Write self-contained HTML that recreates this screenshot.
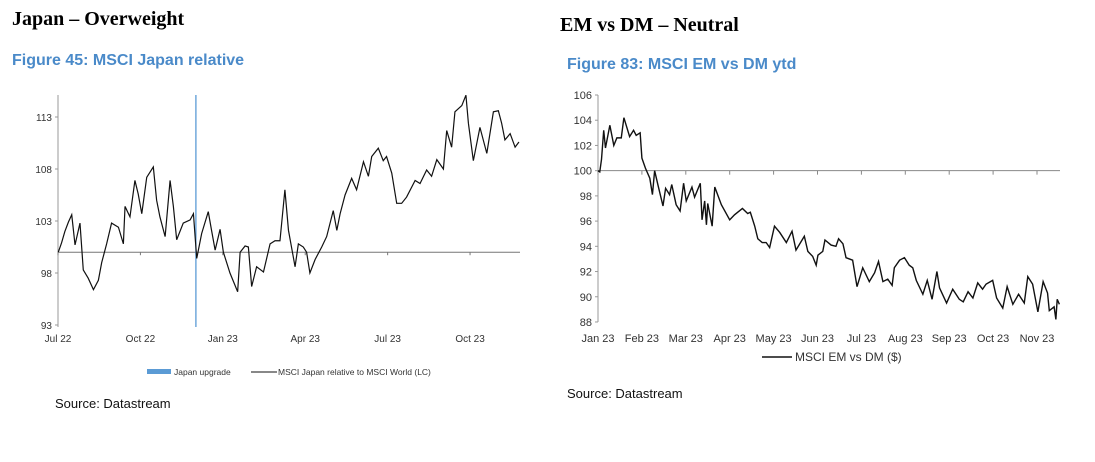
<!DOCTYPE html>
<html><head><meta charset="utf-8"><style>
body{margin:0;width:1095px;height:462px;background:#fff;overflow:hidden;font-family:"Liberation Sans",sans-serif}
.h{position:absolute;font-family:"Liberation Serif",serif;font-weight:bold;font-size:20px;color:#000}
.f{position:absolute;font-weight:bold;font-size:16px;color:#4a8ac9}
.s{position:absolute;font-size:13px;color:#111}
svg{position:absolute;left:0;top:0}
svg text{font-family:"Liberation Sans",sans-serif;fill:#333}
</style></head><body>
<div class="h" style="left:12px;top:8px">Japan – Overweight</div>
<div class="f" style="left:12px;top:52px">Figure 45: MSCI Japan relative</div>
<div class="h" style="left:560px;top:14px">EM vs DM – Neutral</div>
<div class="f" style="left:567px;top:56px">Figure 83: MSCI EM vs DM ytd</div>
<div class="s" style="left:55px;top:396px">Source: Datastream</div>
<div class="s" style="left:567px;top:386px">Source: Datastream</div>
<svg id="c" width="1095" height="462"></svg>
<script>
const jpMonths=[0.01,.13,.25,.38,.50,.62,.80,.92,1.10,1.29,1.47,1.59,1.77,1.95,2.20,2.38,2.44,2.62,2.80,2.92,3.05,3.23,3.47,3.59,3.71,3.90,4.08,4.20,4.32,4.56,4.81,4.93,5.05,5.23,5.47,5.59,5.72,5.90,6.02,6.26,6.54,6.63,6.81,6.93,7.05,7.23,7.48,7.72,7.90,8.08,8.26,8.39,8.63,8.75,8.93,9.05,9.17,9.36,9.60,9.78,10.02,10.15,10.27,10.45,10.69,10.87,11.12,11.30,11.42,11.66,11.84,11.96,12.15,12.33,12.51,12.69,13.00,13.18,13.42,13.60,13.79,14.03,14.15,14.33,14.45,14.70,14.85,14.94,15.12,15.36,15.61,15.85,16.03,16.15,16.27,16.46,16.64,16.78];
const jpValues=[100,100.9,102,102.9,103.6,100.7,102.8,98.3,97.5,96.4,97.3,99,100.8,102.8,102.4,100.8,104.4,103.4,106.9,105.6,103.7,107.2,108.2,105,103.4,101.5,106.9,104.4,101.2,102.8,103.1,103.7,99.4,101.8,103.9,102.1,100.2,102.2,100,98,96.2,100,100.6,100.5,96.7,98.6,98.1,100.8,101.1,101.1,106,102.1,98.6,100.8,100.5,100,98,99.3,100.5,101.5,104,102.1,103.7,105.5,107.1,106,108.7,107.3,109.2,110,108.8,109.2,107.6,104.7,104.7,105.3,106.9,106.6,107.9,107.3,108.9,108,111.7,110.1,113.5,114.1,115.1,112.4,108.8,112,109.5,113.5,113.6,112.4,110.8,111.4,110.1,110.6];
const jpTicks=[93,98,103,108,113];
const jpXLabels=["Jul 22","Oct 22","Jan 23","Apr 23","Jul 23","Oct 23"];
const jpUpgrade=5.02;
const emMonths=[0,.04,.08,.13,.17,.27,.36,.43,.53,.59,.72,.81,.87,.96,1.00,1.08,1.18,1.24,1.29,1.37,1.48,1.54,1.63,1.68,1.78,1.87,1.95,2.01,2.14,2.20,2.33,2.37,2.43,2.47,2.50,2.60,2.66,2.81,3.00,3.11,3.29,3.41,3.47,3.57,3.64,3.74,3.83,3.91,4.02,4.14,4.29,4.42,4.51,4.70,4.78,4.89,4.97,5.01,5.12,5.17,5.31,5.42,5.48,5.58,5.65,5.80,5.90,6.03,6.18,6.30,6.39,6.49,6.60,6.70,6.75,6.87,6.98,7.09,7.17,7.25,7.40,7.50,7.61,7.72,7.78,7.94,8.08,8.23,8.32,8.43,8.54,8.65,8.76,8.84,8.99,9.08,9.22,9.32,9.45,9.58,9.71,9.79,9.90,10.02,10.14,10.24,10.28,10.39,10.43,10.46,10.51];
const emValues=[100,99.9,100.9,103.2,101.8,103.6,102,102.6,102.6,104.2,102.7,103.2,102.8,103,101,100.2,99.4,98.1,100,98.8,97.2,98.6,98.1,98.9,97.3,96.8,99,97.6,98.7,97.9,99,96.1,97.6,95.7,97.4,95.6,98.7,97.3,96.1,96.5,97,96.6,96.7,95.6,94.6,94.3,94.3,93.9,95.6,95.1,94.3,95.2,93.7,94.8,93.6,93.2,92.5,93.3,93.6,94.5,94.1,94,94.6,94.2,93.1,92.9,90.8,92.3,91.2,91.9,92.8,91.2,91.4,90.9,92.3,92.9,93.1,92.5,92.3,91.3,90.2,91.3,89.8,92,90.7,89.5,90.6,89.8,89.6,90.4,89.9,91.1,90.6,91,91.3,89.9,89.1,90.8,89.4,90.2,89.5,91.6,91,88.8,91.2,90.3,88.9,89.2,88.2,89.8,89.4];
const emTicks=[88,90,92,94,96,98,100,102,104,106];
const emXLabels=["Jan 23","Feb 23","Mar 23","Apr 23","May 23","Jun 23","Jul 23","Aug 23","Sep 23","Oct 23","Nov 23"];
const NS="http://www.w3.org/2000/svg",svg=document.getElementById('c');
function mk(t,a,txt){const e=document.createElementNS(NS,t);for(const k in a)e.setAttribute(k,a[k]);if(txt!==undefined)e.textContent=txt;svg.appendChild(e);return e;}
// Japan chart
const jx=m=>58+m*27.47, jy=v=>117+(113-v)*10.4;
let e=mk('line',{x1:58,y1:95,x2:58,y2:327,stroke:'#999'});

jpTicks.forEach(t=>{e=mk('text',{x:52,y:jy(t)+4,'font-size':10,'text-anchor':'end'},t);

mk('line',{x1:55,y1:jy(t),x2:58,y2:jy(t),stroke:'#999'});});
e=mk('line',{x1:58,y1:jy(100),x2:520,y2:jy(100),stroke:'#777'});

jpXLabels.forEach((l,i)=>{const x=jx(i*3);mk('line',{x1:x,y1:jy(100),x2:x,y2:jy(100)+3,stroke:'#777'});
e=mk('text',{x:x,y:342,'font-size':10,'text-anchor':'middle'},l);
});
e=mk('line',{x1:jx(jpUpgrade),y1:95,x2:jx(jpUpgrade),y2:327,stroke:'#5b9bd5','stroke-width':1.3});

e=mk('polyline',{points:jpMonths.map((m,i)=>jx(m)+','+jy(jpValues[i])).join(' '),fill:'none',stroke:'#111','stroke-width':1.2});

e=mk('rect',{x:147,y:369,width:24,height:5,fill:'#5b9bd5'});

e=mk('text',{x:174,y:375,'font-size':8.5},'Japan upgrade');

mk('line',{x1:251,y1:372,x2:277,y2:372,stroke:'#111'});
e=mk('text',{x:278,y:375,'font-size':8.5},'MSCI Japan relative to MSCI World (LC)');

// EM chart
const ex=m=>598+m*43.9, ey=v=>95+(106-v)*12.61;
e=mk('line',{x1:598,y1:95,x2:598,y2:322,stroke:'#999'});

emTicks.forEach(t=>{e=mk('text',{x:592,y:ey(t)+4,'font-size':11,'text-anchor':'end'},t);

mk('line',{x1:595,y1:ey(t),x2:598,y2:ey(t),stroke:'#999'});});
e=mk('line',{x1:598,y1:ey(100),x2:1060,y2:ey(100),stroke:'#888'});

emXLabels.forEach((l,i)=>{const x=ex(i);mk('line',{x1:x,y1:ey(100),x2:x,y2:ey(100)+4,stroke:'#888'});
e=mk('text',{x:x,y:342,'font-size':11,'text-anchor':'middle'},l);
});
e=mk('polyline',{points:emMonths.map((m,i)=>ex(m)+','+ey(emValues[i])).join(' '),fill:'none',stroke:'#111','stroke-width':1.4});

mk('line',{x1:762,y1:357,x2:792,y2:357,stroke:'#111','stroke-width':1.5});
e=mk('text',{x:795,y:361,'font-size':12},'MSCI EM vs DM ($)');

</script>
</body></html>
